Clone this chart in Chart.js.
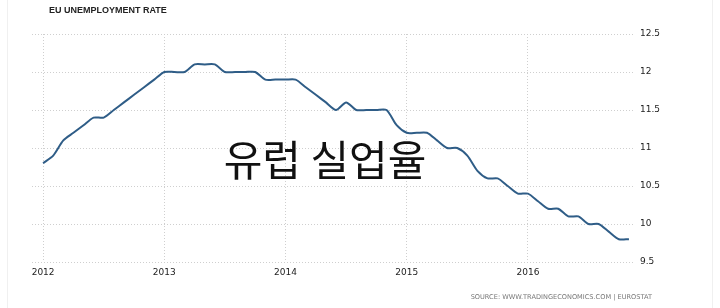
<!DOCTYPE html>
<html>
<head>
<meta charset="utf-8">
<script src="https://cdn.jsdelivr.net/npm/chart.js@4.4.0/dist/chart.umd.min.js"></script>
<style>
  html, body { margin: 0; padding: 0; background: #fff; }
  #wrap { position: relative; width: 720px; height: 308px; }
  #frame { position: absolute; left: 7px; top: 0; width: 706px; height: 308px;
           border-left: 1px solid #f0f0f0; border-right: 1px solid #f0f0f0; box-sizing: border-box; }
</style>
</head>
<body>
<div id="wrap">
  <div id="frame"></div>
  <canvas id="chart" width="720" height="308"></canvas>
</div>
<script>
const title = "EU UNEMPLOYMENT RATE";
const overlay = "유럽 실업율";
const source = "SOURCE: WWW.TRADINGECONOMICS.COM | EUROSTAT";

const years = ["2012", "2013", "2014", "2015", "2016"];

// monthly values, Jan 2012 .. Nov 2016
const rate2012 = [10.8, 10.9, 11.1, 11.2, 11.3, 11.4, 11.4, 11.5, 11.6, 11.7, 11.8, 11.9];
const rate2013 = [12.0, 12.0, 12.0, 12.1, 12.1, 12.1, 12.0, 12.0, 12.0, 12.0, 11.9, 11.9];
const rate2014 = [11.9, 11.9, 11.8, 11.7, 11.6, 11.5, 11.6, 11.5, 11.5, 11.5, 11.5, 11.3];
const rate2015 = [11.2, 11.2, 11.2, 11.1, 11.0, 11.0, 10.9, 10.7, 10.6, 10.6, 10.5, 10.4];
const rate2016 = [10.4, 10.3, 10.2, 10.2, 10.1, 10.1, 10.0, 10.0, 9.9, 9.8, 9.8];

const yMin = 9.5, yMax = 12.5, yStep = 0.5;

const rates = [...rate2012, ...rate2013, ...rate2014, ...rate2015, ...rate2016];
const points = rates.map((v, i) => ({ x: i, y: v }));

const gridColor = "#cfcfcf";
const tickFont = { family: "DejaVu Sans", size: 9 };

const textPlugin = {
  id: "texts",
  afterDraw: (chart) => {
    const ctx = chart.ctx;
    ctx.save();
    ctx.fillStyle = "#222";
    ctx.font = "bold 9px 'Liberation Sans'";
    ctx.textBaseline = "middle";
    ctx.textAlign = "left";
    ctx.fillText(title, 49, 11);

    ctx.fillStyle = "#111";
    ctx.font = "42px 'Noto Sans CJK KR'";
    ctx.textAlign = "center";
    ctx.fillText(overlay, 325, 160);

    ctx.fillStyle = "#777";
    ctx.font = "6.6px 'DejaVu Sans'";
    ctx.textAlign = "right";
    ctx.fillText(source, 652, 297);
    ctx.restore();
  }
};

new Chart(document.getElementById("chart").getContext("2d"), {
  type: "line",
  data: {
    datasets: [
      {
        data: points,
        borderColor: "#2f5d87",
        borderWidth: 2,
        pointRadius: 0,
        tension: 0.25,
        fill: false
      }
    ]
  },
  options: {
    responsive: false,
    animation: false,
    layout: { padding: { left: 32, top: 34, right: 0, bottom: 0 } },
    plugins: { legend: { display: false }, tooltip: { enabled: false } },
    scales: {
      x: {
        type: "linear",
        min: -1.1,
        max: 58.6,
        afterBuildTicks: (scale) => {
          scale.ticks = years.map((y, i) => ({ value: i * 12 }));
        },
        afterFit: (scale) => { scale.height = 46; },
        ticks: {
          color: "#222",
          font: tickFont,
          padding: 5,
          maxRotation: 0,
          callback: (v) => years[Math.round(v / 12)]
        },
        grid: { color: gridColor, drawTicks: false },
        border: { display: false, dash: [1, 2] }
      },
      y: {
        position: "right",
        min: yMin,
        max: yMax,
        afterFit: (scale) => { scale.width = 85; },
        ticks: {
          stepSize: yStep,
          color: "#222",
          font: tickFont,
          padding: 5,
          callback: (v) => String(v)
        },
        grid: { color: gridColor, drawTicks: false },
        border: { display: false, dash: [1, 2] }
      }
    }
  },
  plugins: [textPlugin]
});
</script>
</body>
</html>
